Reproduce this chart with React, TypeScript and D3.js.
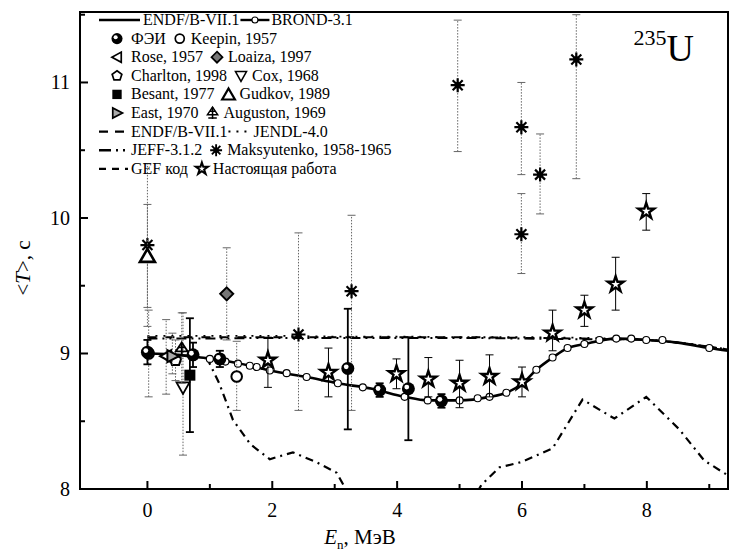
import * as d3 from "d3";

// ---- curves: energy E (MeV) and mean half-life <T> (s) ----
const endfE = [0, 0.5, 0.85, 1.2, 1.64, 1.96, 2.55, 3.05, 3.6, 4.12, 4.49, 5.0, 5.48, 5.75, 6.01, 6.23, 6.49, 6.73, 7.0, 7.5, 8.0, 8.5, 9.0, 9.3];
const endfT = [9.0, 8.99, 8.97, 8.95, 8.91, 8.875, 8.826, 8.78, 8.74, 8.68, 8.654, 8.654, 8.68, 8.71, 8.78, 8.88, 8.97, 9.04, 9.07, 9.11, 9.1, 9.08, 9.04, 9.02];

const brondE = [1.0, 1.25, 1.45, 1.64, 1.75, 1.96, 2.23, 2.55, 3.05, 3.45, 4.12, 4.49, 5.0, 5.29, 5.48, 5.75, 6.01, 6.23, 6.49, 6.73, 7.0, 7.24, 7.51, 7.75, 7.99, 8.25, 9.0];
const brondT = [8.96, 8.94, 8.925, 8.91, 8.9, 8.875, 8.855, 8.826, 8.78, 8.75, 8.68, 8.654, 8.654, 8.67, 8.68, 8.71, 8.78, 8.88, 8.97, 9.04, 9.07, 9.1, 9.11, 9.11, 9.1, 9.1, 9.04];

const flatE = [0, 1, 2, 3, 4, 5, 6, 7, 8, 8.5, 9, 9.3];
const endfDashT = [9.12, 9.12, 9.12, 9.12, 9.12, 9.12, 9.115, 9.11, 9.1, 9.08, 9.05, 9.03];
const jendlT = [9.13, 9.13, 9.13, 9.125, 9.125, 9.12, 9.12, 9.115, 9.1, 9.08, 9.05, 9.03];
const jeffT = [9.11, 9.11, 9.115, 9.115, 9.115, 9.115, 9.11, 9.105, 9.1, 9.08, 9.05, 9.03];

const gefE = [0.95, 1.15, 1.37, 1.65, 1.96, 2.33, 2.7, 3.03, 3.2, 4.2, 5.25, 5.35, 5.64, 6.0, 6.49, 6.97, 7.48, 7.99, 8.52, 8.92, 9.3];
const gefT = [8.97, 8.78, 8.51, 8.33, 8.22, 8.27, 8.2, 8.12, 7.98, 7.5, 7.95, 8.03, 8.16, 8.2, 8.3, 8.66, 8.52, 8.68, 8.44, 8.21, 8.1];

// ---- measurements: [E, T, lower end, upper end] ----
type Pt = [number, number, number, number];
const fei: Pt[] = [[0, 9.01, 8.92, 9.1], [0.73, 8.99, 8.9, 9.08], [1.16, 8.96, 8.9, 9.02], [3.21, 8.89, 8.44, 9.33], [3.72, 8.73, 8.68, 8.78], [4.18, 8.74, 8.36, 9.12], [4.71, 8.65, 8.6, 8.7]];
const keepin: Pt[] = [[0.02, 9.0, 8.68, 9.32], [1.43, 8.83, 8.58, 9.09]];
const rose: Pt[] = [[0.3, 8.98, 8.7, 9.25]];
const loaiza: Pt[] = [[1.27, 9.44, 9.1, 9.78]];
const charlton: Pt[] = [[0.45, 8.95, 8.8, 9.1]];
const cox: Pt[] = [[0.57, 8.75, 8.25, 9.3]];
const besant: Pt[] = [[0.68, 8.84, 8.42, 9.26]];
const gudkov: Pt[] = [[0, 9.72, 9.34, 10.1]];
const east: Pt[] = [[0.4, 8.98, 8.85, 9.15]];
const auguston: Pt[] = [[0.55, 9.03, 8.78, 9.3]];
const maks: Pt[] = [[0, 9.8, 9.2, 10.4], [2.42, 9.14, 8.58, 9.89], [3.27, 9.46, 8.58, 10.02], [4.97, 10.98, 10.49, 11.46], [5.99, 10.67, 10.32, 11.0], [5.99, 9.88, 9.59, 10.18], [6.29, 10.32, 10.03, 10.62], [6.87, 11.17, 10.29, 11.5]];
const present: Pt[] = [[1.93, 8.95, 8.75, 9.12], [2.9, 8.86, 8.68, 9.04], [3.99, 8.85, 8.74, 8.96], [4.5, 8.81, 8.68, 8.97], [5.0, 8.78, 8.6, 8.95], [5.48, 8.83, 8.68, 8.99], [6.0, 8.79, 8.68, 8.9], [6.49, 9.15, 9.02, 9.32], [7.0, 9.32, 9.2, 9.43], [7.5, 9.51, 9.32, 9.71], [7.99, 10.05, 9.91, 10.18]];

const xTicks = [0, 2, 4, 6, 8];
const xMinor = [1, 3, 5, 7, 9];
const yTicks = [8, 9, 10, 11];
const yMinor = [8.5, 9.5, 10.5, 11.5];

const serif = "Liberation Serif, Times New Roman, serif";
const L = 80, R = 728, T = 12, B = 489;
const LEG_FS = 16;

const x = d3.scaleLinear().domain([-1.08, 9.3]).range([L, R]);
const y = d3.scaleLinear().domain([8, 11.52]).range([B, T]);

const zip = (a: number[], b: number[]) => a.map((v, i) => [v, b[i]] as [number, number]);
const smooth = d3.line<[number, number]>().x((d) => x(d[0])).y((d) => y(d[1])).curve(d3.curveMonotoneX);
const straight = d3.line<[number, number]>().x((d) => x(d[0])).y((d) => y(d[1]));

const starPath = d3.symbol(d3.symbolStar, 78)() as string;
const starSmall = d3.symbol(d3.symbolStar, 62)() as string;

let ctx: CanvasRenderingContext2D | null = null;
function textW(s: string, size = LEG_FS) {
  if (!ctx) ctx = document.createElement("canvas").getContext("2d");
  if (!ctx) return s.length * size * 0.5;
  ctx.font = `${size}px Liberation Serif, Times New Roman, serif`;
  return ctx.measureText(s).width;
}

function Marker({ kind, cx, cy, s = 1 }: { kind: string; cx: number; cy: number; s?: number }) {
  const t = `translate(${cx},${cy}) scale(${s})`;
  switch (kind) {
    case "fei":
      return (
        <g transform={t}>
          <circle r={6.5} fill="#000" />
          <circle cx={-1.6} cy={-1.6} r={2.4} fill="#fff" />
        </g>
      );
    case "open":
      return <circle transform={t} r={5.3} fill="#fff" stroke="#000" strokeWidth={2} />;
    case "left":
      return <path transform={t} d="M-6,0L5,-6L5,6Z" fill="#fff" stroke="#000" strokeWidth={2} />;
    case "diamond":
      return <path transform={t} d="M0,-6.5L6.5,0L0,6.5L-6.5,0Z" fill="#777" stroke="#000" strokeWidth={2} />;
    case "pent": {
      const p = d3.range(5).map((i) => {
        const a = -Math.PI / 2 + (i * 2 * Math.PI) / 5;
        return `${6 * Math.cos(a)},${6 * Math.sin(a)}`;
      });
      return <path transform={t} d={`M${p.join("L")}Z`} fill="#fff" stroke="#000" strokeWidth={2} />;
    }
    case "down":
      return <path transform={t} d="M-6.5,-5L6.5,-5L0,6.5Z" fill="#fff" stroke="#000" strokeWidth={1.8} />;
    case "square":
      return <rect transform={t} x={-5.5} y={-5.5} width={11} height={11} fill="#000" />;
    case "up":
      return <path transform={t} d="M0,-7L7.5,6L-7.5,6Z" fill="#fff" stroke="#000" strokeWidth={2.6} />;
    case "right":
      return <path transform={t} d="M6.5,0L-5,-6L-5,6Z" fill="#aaa" stroke="#000" strokeWidth={2} />;
    case "aug":
      return (
        <g transform={t} stroke="#000" strokeWidth={1.8} fill="none">
          <path d="M0,-7L6,2L-6,2Z" />
          <path d="M0,-7L0,7M-5,6L5,6M-3,-2L3,-2" />
        </g>
      );
    case "ast":
      return (
        <g transform={t} stroke="#000" strokeWidth={2.2}>
          <path d="M-7,0L7,0M0,-7L0,7M-5,-5L5,5M-5,5L5,-5" />
          <circle r={2} fill="#000" />
        </g>
      );
    case "star":
      return <path transform={t} d={s < 1 ? starSmall : starPath} fill="#fff" stroke="#000" strokeWidth={2.4} />;
    default:
      return null;
  }
}

function ErrBar({ p, dotted, w = 1 }: { p: Pt; dotted: boolean; w?: number }) {
  const cx = x(p[0]);
  const col = dotted ? "#666" : "#000";
  return (
    <g stroke={col} strokeWidth={w}>
      <line x1={cx} x2={cx} y1={y(p[2])} y2={y(p[3])} strokeDasharray={dotted ? "1.5 1.5" : undefined} />
      <line x1={cx - 4} x2={cx + 4} y1={y(p[2])} y2={y(p[2])} />
      <line x1={cx - 4} x2={cx + 4} y1={y(p[3])} y2={y(p[3])} />
    </g>
  );
}

const groups: { data: Pt[]; kind: string; dotted: boolean; w?: number }[] = [
  { data: maks, kind: "ast", dotted: true },
  { data: gudkov, kind: "up", dotted: true },
  { data: loaiza, kind: "diamond", dotted: true },
  { data: keepin, kind: "open", dotted: true },
  { data: rose, kind: "left", dotted: true },
  { data: charlton, kind: "pent", dotted: true },
  { data: cox, kind: "down", dotted: true },
  { data: east, kind: "right", dotted: true },
  { data: auguston, kind: "aug", dotted: true },
  { data: besant, kind: "square", dotted: false, w: 1.8 },
  { data: present, kind: "star", dotted: false, w: 1 },
  { data: fei, kind: "fei", dotted: false, w: 1.8 },
];

// legend rows: [sample, label, second sample, second label]
type Samp = { kind?: string; dash?: string; w?: number; circle?: boolean };
const legendRows: [Samp, string, Samp, string][] = [
  [{ dash: undefined, w: 2.4 }, "ENDF/B-VII.1", { w: 2.4, circle: true }, "BROND-3.1"],
  [{ kind: "fei" }, "ФЭИ", { kind: "open" }, "Keepin, 1957"],
  [{ kind: "left" }, "Rose, 1957", { kind: "diamond" }, "Loaiza, 1997"],
  [{ kind: "pent" }, "Charlton, 1998", { kind: "down" }, "Cox, 1968"],
  [{ kind: "square" }, "Besant, 1977", { kind: "up" }, "Gudkov, 1989"],
  [{ kind: "right" }, "East, 1970", { kind: "aug" }, "Auguston, 1969"],
  [{ dash: "9 7", w: 2.4 }, "ENDF/B-VII.1", { dash: "2 6", w: 2 }, "JENDL-4.0"],
  [{ dash: "12 5 2 5 2 5", w: 2.4 }, "JEFF-3.1.2", { kind: "ast" }, "Maksyutenko, 1958-1965"],
  [{ dash: "7 6", w: 2.2 }, "GEF код", { kind: "star" }, "Настоящая работа"],
];
const ROW0 = 20, ROWH = 18.6;
const LX0 = 99, LX1 = 128, TXT = 131;

function Sample({ s, x0, x1, cy }: { s: Samp; x0: number; x1: number; cy: number }) {
  if (s.kind) return <Marker kind={s.kind} cx={(x0 + x1) / 2} cy={cy} s={0.85} />;
  return (
    <g>
      <line x1={x0} x2={x1} y1={cy} y2={cy} stroke="#000" strokeWidth={s.w} strokeDasharray={s.dash} />
      {s.circle && <circle cx={(x0 + x1) / 2} cy={cy} r={3} fill="#fff" stroke="#000" strokeWidth={1.1} />}
    </g>
  );
}

export default function App() {
  return (
    <svg width={730} height={552} style={{ position: "absolute", left: 0, top: 0, background: "#fff" }}>
      <defs>
        <clipPath id="plot">
          <rect x={L} y={T} width={R - L} height={B - T} />
        </clipPath>
      </defs>

      <g clipPath="url(#plot)" fill="none">
        <path d={straight(zip(gefE, gefT)) as string} stroke="#000" strokeWidth={2.2} strokeDasharray="8 5 2 5" />
        <path d={smooth(zip(flatE, endfDashT)) as string} stroke="#000" strokeWidth={2} strokeDasharray="9 9" />
        <path d={smooth(zip(flatE, jendlT)) as string} stroke="#000" strokeWidth={1.8} strokeDasharray="2 6" />
        <path d={smooth(zip(flatE, jeffT)) as string} stroke="#000" strokeWidth={2} strokeDasharray="10 5 2 5 2 5" />
        <path d={smooth(zip(endfE, endfT)) as string} stroke="#000" strokeWidth={2.6} />
        {brondE.map((e, i) => (
          <circle key={i} cx={x(e)} cy={y(brondT[i])} r={3.5} fill="#fff" stroke="#000" strokeWidth={1.1} />
        ))}
        {groups.map((g, gi) => (
          <g key={gi}>
            {g.data.map((p, i) => (
              <ErrBar key={"e" + i} p={p} dotted={g.dotted} w={g.w} />
            ))}
            {g.data.map((p, i) => (
              <Marker key={"m" + i} kind={g.kind} cx={x(p[0])} cy={y(p[1])} />
            ))}
          </g>
        ))}
      </g>

      {/* frame and ticks */}
      <rect x={L} y={T} width={R - L} height={B - T} fill="none" stroke="#000" strokeWidth={2} />
      <g fontFamily={serif}>
        {xTicks.map((v) => (
          <g key={v}>
            <line x1={x(v)} x2={x(v)} y1={B} y2={B - 8} stroke="#000" strokeWidth={2} />
            <text x={x(v)} y={517} fontSize={20} textAnchor="middle">{v}</text>
          </g>
        ))}
        {xMinor.map((v) => (
          <line key={v} x1={x(v)} x2={x(v)} y1={B} y2={B - 5} stroke="#000" strokeWidth={2} />
        ))}
        {yTicks.map((v) => (
          <g key={v}>
            <line x1={L} x2={L + 8} y1={y(v)} y2={y(v)} stroke="#000" strokeWidth={2} />
            <text x={70} y={y(v) + 7} fontSize={20} textAnchor="end">{v}</text>
          </g>
        ))}
        {yMinor.map((v) => (
          <line key={v} x1={L} x2={L + 5} y1={y(v)} y2={y(v)} stroke="#000" strokeWidth={2} />
        ))}

        {/* axis titles */}
        <text transform="translate(30,268) rotate(-90)" fontSize={21} textAnchor="middle">
          {"<"}<tspan fontStyle="italic">T</tspan>{">, c"}
        </text>
        <text x={360} y={544} fontSize={21} textAnchor="middle">
          <tspan fontStyle="italic">E</tspan>
          <tspan fontSize={13} dy={5}>n</tspan>
          <tspan dy={-5}>, МэВ</tspan>
        </text>

        {/* nuclide label */}
        <text x={694} y={61} textAnchor="end">
          <tspan fontSize={22} dy={-16}>235</tspan>
          <tspan fontSize={38} dy={16}>U</tspan>
        </text>

        {/* legend */}
        <g fontSize={LEG_FS}>
          {legendRows.map(([s1, t1, s2, t2], i) => {
            const cy = ROW0 + i * ROWH;
            const first = i === 0 ? 12 : 0;
            const end1 = TXT + first + textW(t1);
            const line2 = !s2.kind;
            const x0 = line2 ? end1 + 1 : end1 + 6;
            const x1 = line2 ? end1 + (s2.circle ? 30 : 24) : end1 + 22;
            return (
              <g key={i}>
                <Sample s={s1} x0={s1.kind ? 110 : LX0} x1={s1.kind ? 124 : LX1 + first} cy={cy} />
                <text x={TXT + first} y={cy + 5}>{t1}</text>
                <Sample s={s2} x0={x0} x1={x1} cy={cy} />
                <text x={x1 + (line2 ? 2 : 3)} y={cy + 5}>{t2}</text>
              </g>
            );
          })}
        </g>
      </g>
    </svg>
  );
}
